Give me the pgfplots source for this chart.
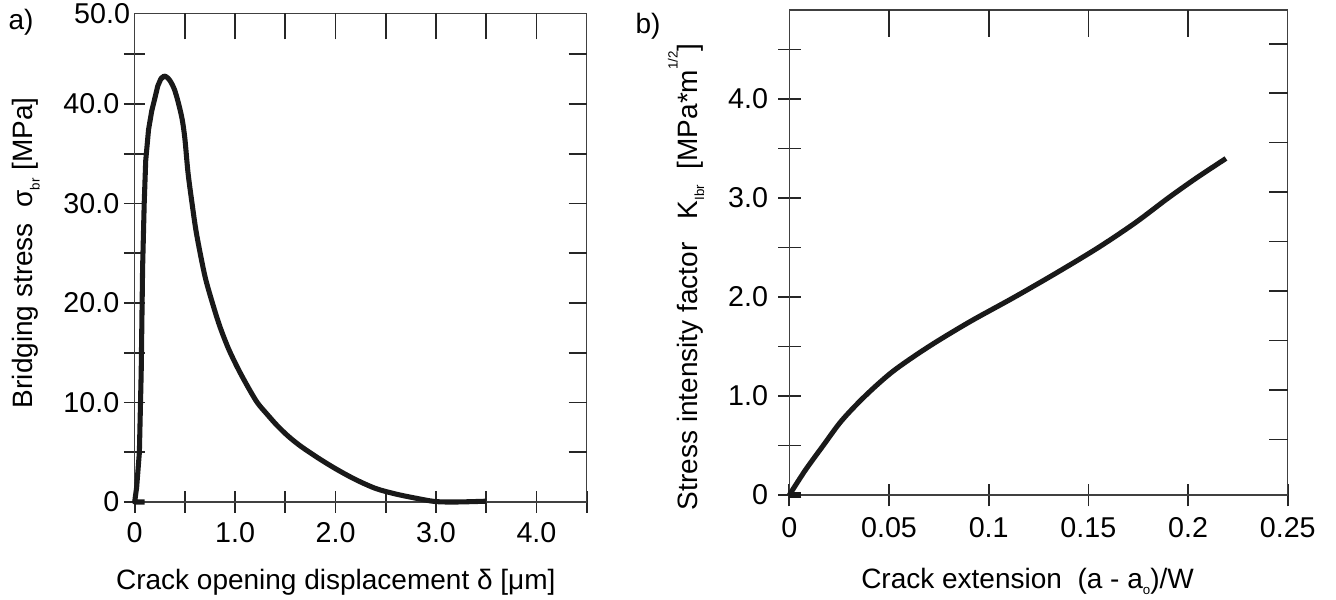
\documentclass[border=0pt]{standalone}
\usepackage{fontspec}
\setmainfont{Liberation Sans}
\usepackage{pgfplots}
\pgfplotsset{compat=1.18}
\newcommand{\sub}[1]{\raisebox{-0.45ex}{\fontsize{10}{10}\selectfont #1}}
\newcommand{\sups}[1]{\raisebox{1.35ex}{\fontsize{10}{10}\selectfont #1}}
\pgfplotsset{
  base/.style={scale only axis, anchor=south west, clip=false,
    axis line style={black!75, line width=1pt},
    every tick/.style={black!85, line width=1.3pt},
    tick label style={font=\fontsize{21.5}{24}\selectfont},
    label style={font=\fontsize{21}{24}\selectfont},
    /pgf/number format/assume math mode=true},
  tickstrip/.style={scale only axis, anchor=south west,
    axis line style={draw=none}, major tick length=0pt,
    xticklabels={}, yticklabels={},
    grid style={black!85, line width=1.3pt, solid}},
  curve/.style={black!90, line width=3.8pt, line join=round, line cap=butt},
}
\begin{document}
\begin{tikzpicture}
\path[use as bounding box] (0,0) rectangle (1002pt,450pt);
% ---------- panel a ----------
\begin{axis}[base, at={(101pt,73.5pt)}, width=339pt, height=366.5pt,
  xmin=0, xmax=4.5, ymin=0, ymax=49.1,
  xtick={0,0.5,1,1.5,2,2.5,3,3.5,4,4.5},
  xticklabels={0,,1.0,,2.0,,3.0,,4.0,},
  ytick={0,5,10,15,20,25,30,35,40,45},
  yticklabels={0,,10.0,,20.0,,30.0,,40.0,},
  extra y ticks={49.1}, extra y tick labels={50.0},
  extra y tick style={major tick length=0pt},
  xticklabel style={yshift=-4pt},
  xtick pos=bottom, ytick pos=left, tick align=center, major tick length=16pt,
  xlabel={Crack opening displacement δ [μm]},
  ylabel={Bridging stress\ \ σ\sub{br} [MPa]},
  xlabel style={at={(axis description cs:0.445,-0.164)}, anchor=center},
  ylabel style={at={(axis description cs:-0.240,0.51)}, anchor=center},
]
\addplot[curve] coordinates {
(0.1,0) (0,0) (0.02,1.5) (0.047,5.0) (0.065,13) (0.079,23.5) (0.095,30)
(0.110,34.3) (0.138,37.4) (0.17,39.3) (0.197,40.4) (0.23,41.8) (0.26,42.5)
(0.295,42.8)};
\addplot[curve, smooth, tension=0.5] coordinates {
(0.26,42.5) (0.295,42.8) (0.33,42.6) (0.36,42.2) (0.394,41.5) (0.43,40.3) (0.472,38.5)
(0.50,36.5) (0.531,33.1) (0.57,30.1) (0.610,27.3) (0.66,24.6) (0.709,22.3)
(0.78,19.8) (0.846,17.7) (0.93,15.5) (1.024,13.5) (1.12,11.7) (1.220,10.0)
(1.32,8.8) (1.417,7.7) (1.53,6.6) (1.654,5.6) (1.83,4.4) (2.008,3.3)
(2.20,2.25) (2.402,1.35) (2.60,0.8) (2.795,0.39) (2.99,0.05) (3.2,0.0) (3.5,0.08)
};
\end{axis}
\begin{axis}[tickstrip, at={(101pt,420.5pt)}, width=339pt, height=19.5pt,
  xmin=0, xmax=4.5, ymin=0, ymax=1,
  xtick={0.5,1,1.5,2,2.5,3,3.5,4}, ytick=\empty, xmajorgrids]
\end{axis}
\begin{axis}[tickstrip, at={(426.5pt,73.5pt)}, width=13.5pt, height=366.5pt,
  xmin=0, xmax=1, ymin=0, ymax=49.1,
  ytick={5,10,15,20,25,30,35,40,45}, xtick=\empty, ymajorgrids]
\end{axis}
% ---------- panel b ----------
\begin{axis}[base, at={(592pt,78.75pt)}, width=373.8pt, height=363.75pt,
  xmin=0, xmax=0.25, ymin=0, ymax=4.9,
  xtick={0,0.05,0.1,0.15,0.2,0.25},
  xticklabels={0,0.05,0.1,0.15,0.2,0.25},
  ytick={0,0.5,1,1.5,2,2.5,3,3.5,4,4.5},
  yticklabels={0,,1.0,,2.0,,3.0,,4.0,},
  xticklabel style={yshift=-5pt}, yticklabel style={xshift=-4pt},
  xtick pos=bottom, ytick pos=left, tick align=center, major tick length=17pt,
  xlabel={Crack extension\ \ (a - a\sub{o})/W},
  ylabel={Stress intensity factor\ \ \ K\sub{Ibr}\ \ [MPa*m\sups{1/2}]},
  xlabel style={at={(axis description cs:0.478,-0.178)}, anchor=center},
  ylabel style={at={(axis description cs:-0.207,0.45)}, anchor=center},
]
\addplot[curve] coordinates {(0.006,0) (0,0)};
\addplot[curve, smooth, tension=0.5] coordinates {
(0,0) (0.008,0.25) (0.017,0.50) (0.0262,0.75) (0.038,1.00) (0.052,1.25)
(0.070,1.50) (0.0905,1.75) (0.113,2.00) (0.1345,2.25) (0.155,2.50)
(0.1735,2.75) (0.190,3.00) (0.204,3.20) (0.219,3.40)
};
\end{axis}
\begin{axis}[tickstrip, at={(592pt,422.5pt)}, width=373.8pt, height=20pt,
  xmin=0, xmax=0.25, ymin=0, ymax=1,
  xtick={0.05,0.1,0.15,0.2}, ytick=\empty, xmajorgrids]
\end{axis}
\begin{axis}[tickstrip, at={(951.8pt,78.75pt)}, width=14pt, height=363.75pt,
  xmin=0, xmax=1, ymin=0, ymax=4.9,
  ytick={0.56,1.06,1.56,2.06,2.56,3.06,3.56,4.06,4.56}, xtick=\empty, ymajorgrids]
\end{axis}
\node[font=\fontsize{21}{24}\selectfont, anchor=center] at (15.75pt,433.5pt) {a)};
\node[font=\fontsize{21}{24}\selectfont, anchor=center] at (486pt,430.5pt) {b)};
\end{tikzpicture}
\end{document}
